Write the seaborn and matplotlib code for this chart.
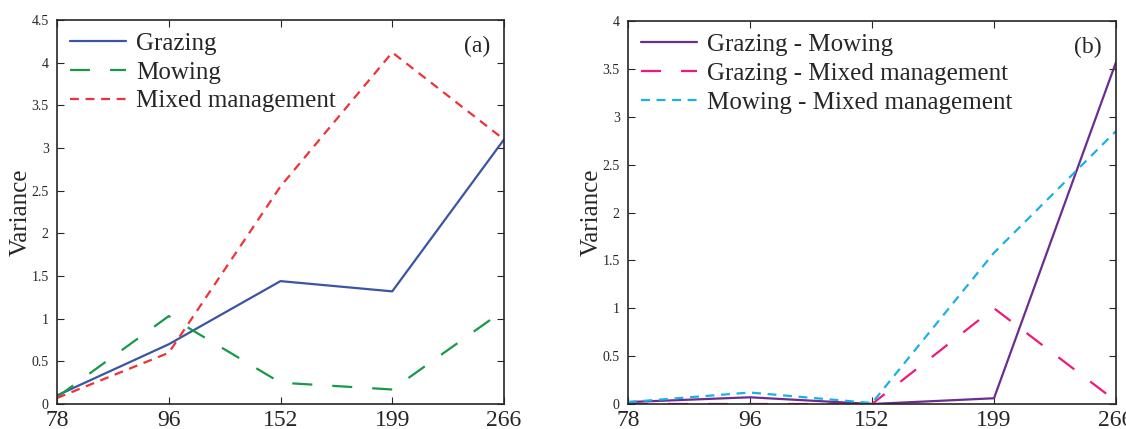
import pandas as pd
import matplotlib.pyplot as plt
import seaborn as sns

# 데이터
days = ["78", "96", "152", "199", "266"]

grazing = [0.10, 0.70, 1.44, 1.32, 3.10]
mowing = [0.08, 1.03, 0.25, 0.17, 1.10]
mixed = [0.07, 0.60, 2.55, 4.12, 3.10]

graz_mow = [0.02, 0.07, 0.00, 0.06, 3.57]
graz_mix = [0.00, 0.00, 0.00, 1.00, 0.03]
mow_mix = [0.02, 0.12, 0.01, 1.58, 2.85]

sns.set_style("ticks")
plt.rcParams['font.family'] = ['Liberation Serif', 'DejaVu Serif']

fig = plt.figure(figsize=(11.26, 4.29), dpi=100)
ax1 = fig.add_axes([57 / 1126, 1 - 404 / 429, 447 / 1126, 384 / 429])
ax2 = fig.add_axes([628 / 1126, 1 - 404 / 429, 488 / 1126, 383 / 429])


def draw(ax, series, ymax, tag):
    for name, vals, color, dashes in series:
        df = pd.DataFrame({"day": days, "v": vals})
        line = sns.lineplot(data=df, x="day", y="v", ax=ax, color=color,
                            linewidth=1.6, label=name, sort=False)
        if dashes is not None:
            line.lines[-1].set_dashes(dashes)
    ax.set_xlim(0, len(days) - 1)
    ax.set_ylim(0, ymax)
    n = int(ymax / 0.5) + 1
    ax.set_yticks([i * 0.5 for i in range(n)])
    ax.set_yticklabels(["%g" % (i * 0.5) for i in range(n)])
    ax.tick_params(axis="y", direction="in", labelsize=10, right=True, length=5, pad=6)
    ax.tick_params(axis="x", direction="in", labelsize=17, top=True, length=5, pad=4)
    ax.set_xlabel("")
    ax.set_ylabel("Variance", fontsize=18, labelpad=0)
    for s in ax.spines.values():
        s.set_linewidth(1.2)
    leg = ax.legend(loc="upper left", frameon=False, fontsize=18, handlelength=2.25,
                    handletextpad=0.4, labelspacing=0.25, borderaxespad=0.2,
                    borderpad=0.3)
    for h, (_, _, _, dashes) in zip(leg.get_lines(), series):
        if dashes is not None:
            h.set_dashes(dashes)
    ax.text(0.97, 0.93, tag, transform=ax.transAxes, ha="right", va="center", fontsize=17)


draw(ax1, [("Grazing", grazing, "#3a55a4", None),
           ("Mowing", mowing, "#17994a", (9, 9)),
           ("Mixed management", mixed, "#ee3338", (4, 3))], 4.5, "(a)")
draw(ax2, [("Grazing - Mowing", graz_mow, "#6b2d90", None),
           ("Grazing - Mixed management", graz_mix, "#ea1b7c", (9, 9)),
           ("Mowing - Mixed management", mow_mix, "#1bb1e8", (4, 3))], 4, "(b)")

plt.savefig("out.png", dpi=100)
